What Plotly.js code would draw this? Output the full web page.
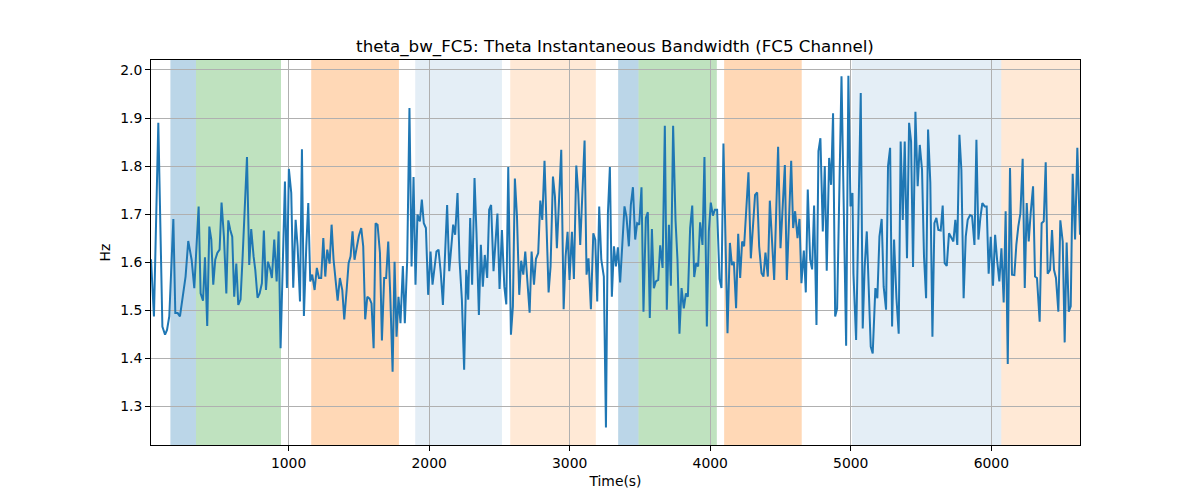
<!DOCTYPE html>
<html>
<head>
<meta charset="utf-8">
<script src="https://cdn.plot.ly/plotly-3.0.1.min.js"></script>
<style>
  html, body { margin: 0; padding: 0; background: #ffffff; }
  #chart { width: 1200px; height: 500px; }
</style>
</head>
<body>
<div id="chart"></div>
<script>
// ---- data ----
const timeSec = [
  21, 42, 73, 102, 121, 135, 151, 180, 194, 211, 227, 246, 267, 286, 310, 329, 360, 374, 391, 405,
  421, 436, 450, 464, 478, 493, 509, 523, 540, 557, 571, 585, 599, 613, 628, 642, 658, 673, 687, 704,
  720, 734, 751, 763, 779, 794, 810, 824, 839,
  853, 867, 881, 898, 915, 929, 943, 974, 988, 1002, 1019, 1033, 1050, 1064, 1081, 1095, 1109, 1126, 1140, 1154,
  1168, 1185, 1201, 1216, 1232, 1247, 1261, 1275, 1292, 1306, 1320, 1349, 1365, 1382, 1396, 1413, 1427, 1441, 1455, 1469,
  1484, 1500, 1517, 1531, 1545, 1560, 1576, 1590, 1605, 1619, 1633, 1650, 1664, 1680,
  1694, 1709, 1723, 1740, 1754, 1768, 1782, 1796, 1813, 1827, 1844, 1860, 1875, 1889, 1903, 1917, 1934, 1948, 1962, 1977,
  1993, 2010, 2024, 2038, 2052, 2067, 2083, 2098, 2114, 2128, 2143, 2157, 2171, 2185, 2202, 2216, 2233, 2249, 2264, 2278,
  2292, 2306, 2323, 2337, 2354, 2368, 2382, 2396, 2413, 2427, 2441, 2458, 2486, 2501,
  2518, 2535, 2549, 2563, 2582, 2596, 2610, 2625, 2641, 2655, 2670, 2684, 2698, 2715, 2729, 2746, 2760, 2776, 2791, 2805,
  2821, 2836, 2850, 2864, 2881, 2895, 2909, 2926, 2940, 2957, 2971, 2985, 2999, 3016, 3030, 3047, 3061, 3075, 3092, 3106,
  3120, 3134, 3151, 3168, 3182, 3196, 3210, 3225, 3243, 3258, 3272, 3286, 3300, 3315, 3329, 3343,
  3359, 3374, 3390, 3404, 3421, 3435, 3450, 3466, 3480, 3495, 3511, 3525, 3542, 3556, 3570, 3585, 3599, 3613, 3630, 3644,
  3661, 3677, 3691, 3706, 3720, 3736, 3753, 3767, 3781, 3796, 3812, 3827, 3841, 3857, 3872, 3886, 3900, 3914, 3928, 3945,
  3959, 3976, 3990, 4004, 4019, 4033, 4049, 4066, 4080, 4094, 4109, 4123, 4140, 4154, 4168,
  4184, 4199, 4213, 4227, 4241, 4272, 4289, 4319, 4334, 4348, 4365, 4379, 4393, 4410, 4424, 4455, 4483, 4500, 4531, 4545,
  4576, 4590, 4604, 4621, 4635, 4649, 4666, 4680, 4694, 4711, 4725, 4739, 4756, 4770, 4784, 4801, 4815, 4829, 4846, 4860,
  4874, 4889, 4903, 4934, 4967, 4983, 4998, 5012,
  5019, 5038, 5054, 5071, 5085, 5099, 5114, 5128, 5142, 5156, 5175, 5189, 5204, 5220, 5234, 5251, 5265, 5280, 5294, 5308,
  5325, 5341, 5355, 5370, 5384, 5400, 5415, 5429, 5443, 5460, 5476, 5491, 5507, 5521, 5536, 5550, 5566, 5581, 5595, 5609,
  5623, 5640, 5654, 5668, 5683, 5699, 5713, 5730, 5744, 5758, 5773, 5787, 5803,
  5818, 5832, 5849, 5863, 5880, 5894, 5908, 5922, 5936, 5953, 5967, 5981, 5996, 6012, 6027, 6041, 6057, 6072, 6088, 6102,
  6117, 6133, 6147, 6164, 6178, 6192, 6207, 6223, 6238, 6252, 6266, 6280, 6297, 6311, 6325, 6344, 6358, 6373, 6387, 6401,
  6418, 6432, 6446, 6460, 6477, 6491, 6508, 6522, 6536, 6551, 6565, 6579, 6596, 6612, 6631
];

const bandwidthHz = [
  1.606, 1.487, 1.890, 1.466, 1.449, 1.459, 1.487, 1.690, 1.494, 1.494, 1.487, 1.528, 1.570, 1.644, 1.605, 1.546, 1.716, 1.535, 1.520, 1.610,
  1.467, 1.674, 1.647, 1.553, 1.605, 1.619, 1.626, 1.724, 1.653, 1.535, 1.687, 1.667, 1.653, 1.528, 1.597, 1.511, 1.522, 1.612, 1.695, 1.819,
  1.594, 1.669, 1.612, 1.584, 1.526, 1.535, 1.556, 1.666, 1.542,
  1.601, 1.588, 1.567, 1.647, 1.560, 1.664, 1.421, 1.768, 1.546, 1.794, 1.744, 1.547, 1.688, 1.633, 1.518, 1.835, 1.488, 1.633, 1.723, 1.560,
  1.574, 1.542, 1.588, 1.567, 1.567, 1.650, 1.570, 1.626, 1.597, 1.678, 1.605, 1.520, 1.567, 1.542, 1.481, 1.542, 1.598, 1.612, 1.664, 1.605,
  1.633, 1.655, 1.671, 1.633, 1.481, 1.528, 1.524, 1.514, 1.421, 1.681, 1.678, 1.619, 1.437, 1.567,
  1.567, 1.643, 1.535, 1.372, 1.601, 1.445, 1.528, 1.473, 1.592, 1.473, 1.605, 1.921, 1.591, 1.777, 1.553, 1.699, 1.685, 1.730, 1.681, 1.671,
  1.532, 1.622, 1.553, 1.591, 1.622, 1.626, 1.577, 1.511, 1.612, 1.719, 1.581, 1.636, 1.678, 1.657, 1.744, 1.605, 1.522, 1.376, 1.584, 1.522,
  1.692, 1.553, 1.775, 1.660, 1.490, 1.636, 1.549, 1.615, 1.567, 1.709, 1.719, 1.581, 1.701, 1.544,
  1.667, 1.549, 1.512, 1.798, 1.449, 1.508, 1.774, 1.695, 1.532, 1.603, 1.574, 1.622, 1.556, 1.495, 1.622, 1.553, 1.607, 1.619, 1.728, 1.688,
  1.811, 1.674, 1.537, 1.591, 1.778, 1.737, 1.629, 1.740, 1.834, 1.502, 1.612, 1.663, 1.563, 1.663, 1.565, 1.801, 1.744, 1.636, 1.758, 1.853,
  1.574, 1.608, 1.502, 1.660, 1.647, 1.518, 1.716, 1.605, 1.570, 1.256, 1.702, 1.798, 1.528, 1.633, 1.591, 1.631,
  1.558, 1.647, 1.716, 1.695, 1.633, 1.719, 1.756, 1.647, 1.681, 1.678, 1.756, 1.497, 1.692, 1.704, 1.484, 1.669, 1.546, 1.560, 1.563, 1.635,
  1.588, 1.884, 1.501, 1.678, 1.551, 1.884, 1.688, 1.605, 1.451, 1.546, 1.504, 1.535, 1.528, 1.671, 1.718, 1.569, 1.598, 1.591, 1.683, 1.636,
  1.819, 1.466, 1.664, 1.724, 1.697, 1.709, 1.709, 1.565, 1.546, 1.847, 1.671, 1.452, 1.640, 1.594, 1.601,
  1.504, 1.659, 1.567, 1.643, 1.633, 1.787, 1.608, 1.740, 1.745, 1.633, 1.577, 1.570, 1.620, 1.570, 1.728, 1.563, 1.840, 1.629, 1.802, 1.563,
  1.811, 1.671, 1.706, 1.650, 1.690, 1.556, 1.624, 1.537, 1.751, 1.605, 1.585, 1.718, 1.469, 1.831, 1.858, 1.664, 1.800, 1.582, 1.817, 1.761,
  1.910, 1.487, 1.504, 1.987, 1.426, 1.988, 1.716, 1.744,
  1.577, 1.438, 1.688, 1.952, 1.462, 1.591, 1.664, 1.535, 1.424, 1.410, 1.546, 1.525, 1.653, 1.690, 1.549, 1.501, 1.800, 1.838, 1.466, 1.647,
  1.525, 1.451, 1.851, 1.688, 1.851, 1.608, 1.890, 1.851, 1.590, 1.913, 1.758, 1.844, 1.792, 1.612, 1.525, 1.876, 1.765, 1.445, 1.681, 1.692,
  1.667, 1.666, 1.718, 1.598, 1.592, 1.660, 1.653, 1.643, 1.688, 1.636, 1.865, 1.792, 1.525,
  1.653, 1.688, 1.698, 1.696, 1.636, 1.855, 1.647, 1.692, 1.723, 1.716, 1.716, 1.576, 1.653, 1.551, 1.657, 1.605, 1.560, 1.629, 1.516, 1.706,
  1.388, 1.796, 1.574, 1.573, 1.636, 1.674, 1.702, 1.815, 1.546, 1.723, 1.643, 1.702, 1.758, 1.570, 1.567, 1.476, 1.681, 1.685, 1.808, 1.576,
  1.584, 1.667, 1.584, 1.567, 1.497, 1.687, 1.643, 1.433, 1.641, 1.497, 1.508, 1.784, 1.647, 1.838, 1.657
];

// shaded stage intervals (seconds)
const bandStart = [159, 341, 1161, 1901, 2577, 3345, 3490, 4099, 5009, 6071];
const bandEnd   = [341, 946, 1785, 2518, 3186, 3490, 4047, 4651, 6071, 6700];
const bandKind  = ['blue', 'green', 'orange', 'paleBlue', 'paleOrange',
                   'blue', 'green', 'orange', 'paleBlue', 'paleOrange'];

const xTickVals = [1000, 2000, 3000, 4000, 5000, 6000];
const yTickVals = [1.3, 1.4, 1.5, 1.6, 1.7, 1.8, 1.9, 2.0];
const yTickText = ['1.3', '1.4', '1.5', '1.6', '1.7', '1.8', '1.9', '2.0'];

// ---- styles ----
const bandFill = {
  blue:       'rgba(31,119,180,0.30)',
  green:      'rgba(44,160,44,0.30)',
  orange:     'rgba(255,127,14,0.30)',
  paleBlue:   'rgba(31,119,180,0.12)',
  paleOrange: 'rgba(255,127,14,0.17)'
};

const shapes = bandStart.map((s, i) => ({
  type: 'rect', xref: 'x', yref: 'paper',
  x0: s, x1: bandEnd[i], y0: 0, y1: 1,
  fillcolor: bandFill[bandKind[i]],
  line: { width: 0 },
  layer: 'below'
}));

const trace = {
  x: timeSec, y: bandwidthHz,
  type: 'scatter', mode: 'lines',
  line: { color: '#1f77b4', width: 2 },
  hoverinfo: 'skip'
};

const font = 'DejaVu Sans, sans-serif';
const layout = {
  width: 1200, height: 500,
  margin: { l: 151, r: 120, t: 60, b: 55, pad: 0 },
  paper_bgcolor: '#ffffff', plot_bgcolor: 'rgba(0,0,0,0)',
  showlegend: false,
  font: { family: font, size: 14, color: '#000000' },
  title: {
    text: 'theta_bw_FC5: Theta Instantaneous Bandwidth (FC5 Channel)',
    font: { family: font, size: 16.7, color: '#000000' },
    x: 0.5125, xanchor: 'center', y: 0.908, yanchor: 'middle', yref: 'container'
  },
  xaxis: {
    range: [21, 6631],
    tickmode: 'array', tickvals: xTickVals,
    ticks: 'outside', ticklen: 5, tickwidth: 1, tickcolor: '#000',
    tickfont: { family: font, size: 13.9 },
    showgrid: true, gridcolor: '#b0b0b0', gridwidth: 1,
    zeroline: false, showline: true, linecolor: '#000', linewidth: 1, mirror: true,
    title: { text: 'Time(s)', font: { family: font, size: 13.9 }, standoff: 6 },
    automargin: false
  },
  yaxis: {
    range: [1.2194, 2.0208],
    tickmode: 'array', tickvals: yTickVals, ticktext: yTickText,
    ticks: 'outside', ticklen: 5, tickwidth: 1, tickcolor: '#000',
    tickfont: { family: font, size: 13.9 },
    showgrid: true, gridcolor: '#b0b0b0', gridwidth: 1,
    zeroline: false, showline: true, linecolor: '#000', linewidth: 1, mirror: true,
    title: { text: 'Hz', font: { family: font, size: 13.9 }, standoff: 6 },
    automargin: false
  },
  shapes: shapes
};

Plotly.newPlot('chart', [trace], layout, { staticPlot: true, displayModeBar: false });
</script>
</body>
</html>
